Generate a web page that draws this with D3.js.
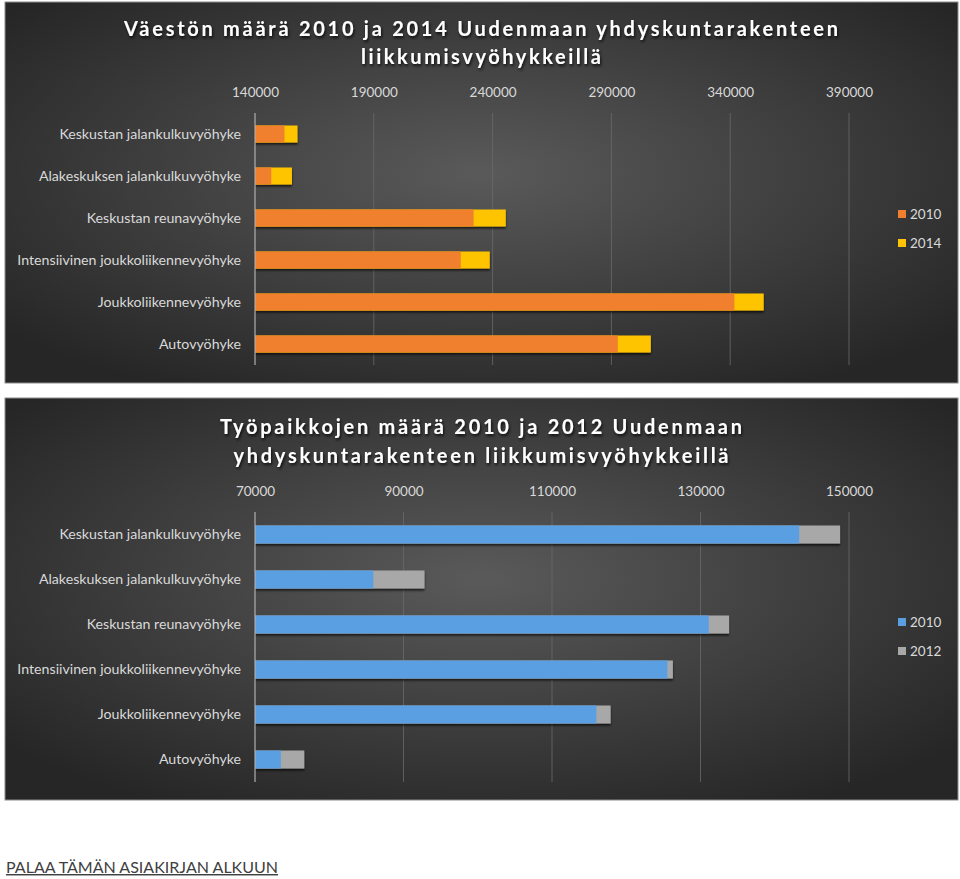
<!DOCTYPE html>
<html>
<head>
<meta charset="utf-8">
<script src="https://cdn.jsdelivr.net/npm/d3@7"></script>
<style>
  html, body { margin: 0; padding: 0; background: #ffffff; }
  svg { display: block; }
</style>
</head>
<body>
<svg id="chart" width="960" height="879"></svg>
<script>
// ---- Data ----
const categories = [
  "Keskustan jalankulkuvyöhyke",
  "Alakeskuksen jalankulkuvyöhyke",
  "Keskustan reunavyöhyke",
  "Intensiivinen joukkoliikennevyöhyke",
  "Joukkoliikennevyöhyke",
  "Autovyöhyke"
];
const popTitle = ["Väestön määrä 2010 ja 2014 Uudenmaan yhdyskuntarakenteen", "liikkumisvyöhykkeillä"];
const popSeriesNames = ["2010", "2014"];
const pop2010 = [152400, 146850, 232000, 226600, 341760, 292700];
const pop2014 = [157900, 155550, 245550, 238800, 354100, 306600];
const popTicks = [140000, 190000, 240000, 290000, 340000, 390000];

const jobTitle = ["Työpaikkojen määrä 2010 ja 2012 Uudenmaan", "yhdyskuntarakenteen liikkumisvyöhykkeillä"];
const jobSeriesNames = ["2010", "2012"];
const jobs2010 = [143290, 85940, 131120, 125540, 115980, 73480];
const jobs2012 = [148800, 92830, 133850, 126280, 117900, 76640];
const jobTicks = [70000, 90000, 110000, 130000, 150000];

const linkText = "PALAA TÄMÄN ASIAKIRJAN ALKUUN";

// ---- Drawing ----
const svg = d3.select("#chart");
const defs = svg.append("defs");

const bg = defs.append("radialGradient").attr("id", "bgGrad")
  .attr("cx", "50%").attr("cy", "45%").attr("r", "65%");
bg.append("stop").attr("offset", "0%").attr("stop-color", "#5a5a5a");
bg.append("stop").attr("offset", "100%").attr("stop-color", "#262626");

const sh = defs.append("filter").attr("id", "barShadow")
  .attr("x", "-5%").attr("y", "-30%").attr("width", "110%").attr("height", "170%");
sh.append("feDropShadow").attr("dx", 0).attr("dy", 2).attr("stdDeviation", 1.2)
  .attr("flood-color", "#000").attr("flood-opacity", 0.7);

const tsh = defs.append("filter").attr("id", "titleShadow")
  .attr("x", "-5%").attr("y", "-30%").attr("width", "110%").attr("height", "170%");
tsh.append("feDropShadow").attr("dx", 1).attr("dy", 2).attr("stdDeviation", 1.5)
  .attr("flood-color", "#000").attr("flood-opacity", 0.8);

function drawChart(cfg) {
  const g = svg.append("g");
  g.append("rect")
    .attr("x", cfg.panel.x).attr("y", cfg.panel.y)
    .attr("width", cfg.panel.w).attr("height", cfg.panel.h)
    .attr("fill", "url(#bgGrad)")
    .attr("stroke", "#8c8c8c").attr("stroke-width", 1);

  // title
  cfg.title.forEach((t, i) => {
    g.append("text")
      .attr("x", 481).attr("y", cfg.titleY[i])
      .attr("text-anchor", "middle")
      .attr("textLength", cfg.titleLen[i]).attr("lengthAdjust", "spacing")
      .attr("font-family", "Lato, 'Open Sans', sans-serif")
      .attr("font-weight", "bold").attr("font-size", 20)
      .attr("fill", "#ffffff")
      .attr("filter", "url(#titleShadow)")
      .text(t);
  });

  const x = d3.scaleLinear().domain(cfg.domain).range([255, 849]);
  const y = d3.scaleBand().domain(categories).range([cfg.top, cfg.bottom])
    .paddingInner(cfg.pad).paddingOuter(cfg.pad / 2);

  // gridlines
  g.append("g").selectAll("line").data(cfg.ticks.slice(1)).join("line")
    .attr("x1", d => x(d)).attr("x2", d => x(d))
    .attr("y1", cfg.top).attr("y2", cfg.bottom)
    .attr("stroke", "#6a6a6a").attr("stroke-width", 0.8);

  // top axis labels
  const ax = d3.axisTop(x).tickValues(cfg.ticks).tickSize(0).tickPadding(0)
    .tickFormat(d3.format("d"));
  const axg = g.append("g").attr("transform", `translate(0,${cfg.tickY})`).call(ax);
  axg.select(".domain").remove();
  axg.selectAll("text")
    .attr("font-family", "Lato, sans-serif").attr("font-size", 13.5)
    .attr("fill", "#d9d9d9").attr("dy", "0.35em").attr("y", 0);

  // category axis labels
  const ay = d3.axisLeft(y).tickSize(0).tickPadding(14);
  const ayg = g.append("g").attr("transform", "translate(255,0)").call(ay);
  ayg.select(".domain").remove();
  ayg.selectAll("text")
    .attr("font-family", "Lato, sans-serif").attr("font-size", 14.2)
    .attr("fill", "#d9d9d9");

  // bars: later year behind, 2010 in front
  const rows = categories.map((c, i) => ({ c, a: cfg.s1[i], b: cfg.s2[i] }));
  const bh = y.bandwidth();
  g.append("g").selectAll("rect").data(rows).join("rect")
    .attr("x", x(cfg.domain[0])).attr("y", d => y(d.c))
    .attr("width", d => x(d.b) - x(cfg.domain[0])).attr("height", bh)
    .attr("fill", cfg.colors[1]).attr("filter", "url(#barShadow)");
  g.append("g").selectAll("rect").data(rows).join("rect")
    .attr("x", x(cfg.domain[0])).attr("y", d => y(d.c))
    .attr("width", d => x(d.a) - x(cfg.domain[0])).attr("height", bh)
    .attr("fill", cfg.colors[0]);

  // value axis baseline
  g.append("line").attr("x1", 255).attr("x2", 255)
    .attr("y1", cfg.top).attr("y2", cfg.bottom)
    .attr("stroke", "#b0b0b0").attr("stroke-width", 1.2);

  // legend
  const lg = g.append("g");
  cfg.names.forEach((n, i) => {
    lg.append("rect").attr("x", 898).attr("y", cfg.legendY[i] - 4)
      .attr("width", 8).attr("height", 8).attr("fill", cfg.colors[i]);
    lg.append("text").attr("x", 910).attr("y", cfg.legendY[i]).attr("dy", "0.35em")
      .attr("font-family", "Lato, sans-serif").attr("font-size", 13.5)
      .attr("fill", "#d9d9d9").text(n);
  });
}

drawChart({
  panel: { x: 5, y: 2, w: 953, h: 381 },
  title: popTitle, titleY: [36, 64], titleLen: [714, 240],
  domain: [140000, 390000], ticks: popTicks, tickY: 92,
  top: 113, bottom: 365, pad: 0.595,
  s1: pop2010, s2: pop2014, names: popSeriesNames,
  colors: ["#f07f2e", "#ffc405"], legendY: [214, 243]
});

drawChart({
  panel: { x: 5, y: 398, w: 953, h: 402 },
  title: jobTitle, titleY: [434, 463], titleLen: [522, 495],
  domain: [70000, 150000], ticks: jobTicks, tickY: 491,
  top: 512, bottom: 782, pad: 0.6,
  s1: jobs2010, s2: jobs2012, names: jobSeriesNames,
  colors: ["#5b9fe3", "#a8a8a8"], legendY: [622, 651]
});

svg.append("text").attr("x", 6).attr("y", 873)
  .attr("font-family", "Lato, 'Open Sans', sans-serif").attr("font-size", 14.5)
  .attr("fill", "#404040").attr("text-decoration", "underline")
  .attr("textLength", 272).attr("lengthAdjust", "spacingAndGlyphs")
  .text(linkText);
</script>
</body>
</html>
